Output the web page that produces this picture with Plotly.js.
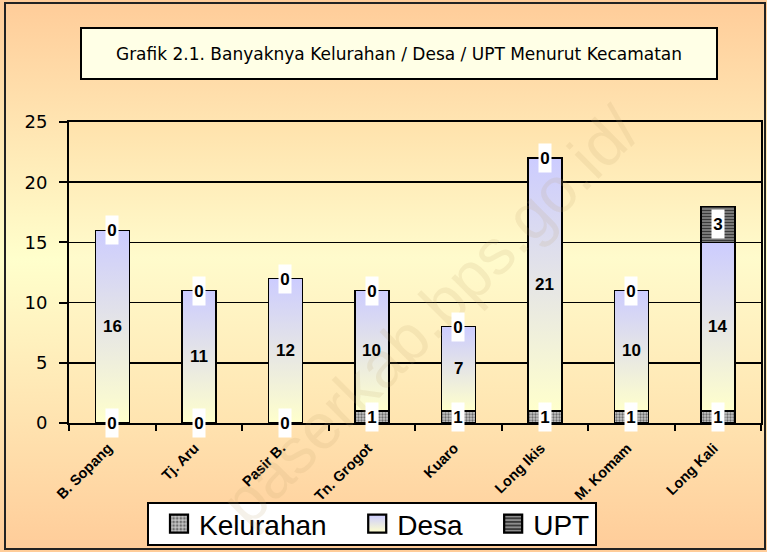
<!DOCTYPE html>
<html>
<head>
<meta charset="utf-8">
<script src="https://cdn.plot.ly/plotly-3.0.1.min.js"></script>
<style>
  html, body { margin:0; padding:0; }
  #wrap { position:relative; width:767px; height:552px;
    background: linear-gradient(to bottom, #FFCC99 0%, #FFFFCC 47%, #FFCC99 100%); overflow:hidden; }
  #plotbg { position:absolute; left:69px; top:122px; width:692px; height:301px;
    background: linear-gradient(to bottom, #FFE2AC 0%, #FFFBCC 45%, #FFE4B0 100%); }
  #frame { position:absolute; left:4px; top:2px; width:758px; height:544px; border:2px solid #222; pointer-events:none; }
  #chart { position:absolute; left:0; top:0; width:767px; height:552px; }
</style>
</head>
<body>
<div id="wrap">
  <div id="plotbg"></div>
  <div id="chart"></div>
  <div id="frame"></div>
</div>
<script>
const categories = ["B. Sopang", "Tj. Aru", "Pasir B.", "Tn. Grogot", "Kuaro", "Long Ikis", "M. Komam", "Long Kali"];
const kelurahan = [0, 0, 0, 1, 1, 1, 1, 1];
const desa      = [16, 11, 12, 10, 7, 21, 10, 14];
const upt       = [0, 0, 0, 0, 0, 0, 0, 3];
const seriesNames = ["Kelurahan", "Desa", "UPT"];
const titleText = "Grafik 2.1. Banyaknya Kelurahan / Desa / UPT Menurut Kecamatan";
const watermark = "paserkab.bps.go.id/";

const pad = "\u00A0\u00A0";
const barLine = { color: "#000", width: 1.5 };
const traces = [
  { type: "bar", name: seriesNames[0] + pad, x: categories, y: kelurahan,
    marker: { color: "#B8B8B8", line: barLine,
      pattern: { shape: ".", fgcolor: "#6E6E6E", bgcolor: "#C4C4C4", size: 3, solidity: 0.45 } } },
  { type: "bar", name: seriesNames[1] + pad, x: categories, y: desa,
    marker: { color: "#E2E0EC", line: barLine } },
  { type: "bar", name: seriesNames[2], x: categories, y: upt,
    marker: { color: "#6A6A6A", line: barLine,
      pattern: { shape: "-", fgcolor: "#3A3A3A", bgcolor: "#8C8C8C", size: 3, solidity: 0.5 } } }
];

const labelFont = { family: "Liberation Sans, Arial, sans-serif", size: 17, color: "#000", weight: "bold" };
const annotations = [];
annotations.push({ xref: "paper", yref: "paper", x: (430 - 69) / 692, y: (423 - 316) / 301,
  xanchor: "center", yanchor: "middle", text: watermark, showarrow: false,
  textangle: -45, font: { family: "Liberation Sans, Arial, sans-serif", size: 64, color: "rgba(190,160,110,0.15)" } });
categories.forEach((c, i) => {
  annotations.push({ x: c, y: kelurahan[i] / 2, text: String(kelurahan[i]), showarrow: false,
    font: labelFont, bgcolor: "#FFFFFF", width: 12, height: 28, borderpad: 0 });
  annotations.push({ x: c, y: kelurahan[i] + desa[i] / 2, text: String(desa[i]), showarrow: false,
    font: labelFont });
  annotations.push({ x: c, y: kelurahan[i] + desa[i] + upt[i] / 2, text: String(upt[i]), showarrow: false,
    font: labelFont, bgcolor: "#FFFFFF", width: 12, height: 28, borderpad: 0 });
});

const layout = {
  width: 767, height: 552,
  margin: { l: 69, r: 6, t: 122, b: 129, pad: 0, autoexpand: false },
  paper_bgcolor: "rgba(0,0,0,0)", plot_bgcolor: "rgba(0,0,0,0)",
  barmode: "stack", bargap: 0.607,
  showlegend: true,
  title: { text: titleText, xref: "paper", x: (399 - 69) / 692, xanchor: "center",
    yref: "container", y: 1 - 54 / 552, yanchor: "middle",
    font: { family: "DejaVu Sans, sans-serif", size: 17, color: "#000" } },
  xaxis: { type: "category", showline: true, linecolor: "#000", linewidth: 2, mirror: true,
    ticks: "outside", tickson: "boundaries", ticklen: 6, tickwidth: 2, tickcolor: "#000",
    tickangle: -45, showgrid: false, ticklabelshift: -4, ticklabelstandoff: 9, automargin: false,
    tickfont: { family: "Liberation Sans, Arial, sans-serif", size: 14.5, color: "#000", weight: "bold" } },
  yaxis: { range: [0, 25], dtick: 5, tick0: 0, showgrid: true, gridcolor: "#000", gridwidth: 1.5,
    showline: true, linecolor: "#000", linewidth: 2, mirror: true, zeroline: false, automargin: false,
    ticks: "outside", ticklen: 8, tickwidth: 2, tickcolor: "#000", ticklabelstandoff: 8,
    tickfont: { family: "DejaVu Sans, sans-serif", size: 18, color: "#000" } },
  legend: { orientation: "h", traceorder: "normal", xref: "paper", yref: "paper",
    x: (147 - 69) / 692, xanchor: "left", y: (423 - 524) / 301, yanchor: "middle",
    indentation: 10,
    bgcolor: "#FFFFFF", bordercolor: "#000", borderwidth: 2,
    font: { family: "Liberation Sans, Arial, sans-serif", size: 28, color: "#000" } },
  shapes: [
    { type: "rect", xref: "paper", yref: "paper", x0: (81 - 69) / 692, x1: (717 - 69) / 692,
      y0: (423 - 79) / 301, y1: (423 - 28) / 301, fillcolor: "#FFFFE6", line: { color: "#000", width: 2 }, layer: "below" }
  ],
  annotations: annotations
};

const gd = document.getElementById("chart");
Plotly.newPlot(gd, traces, layout, { staticPlot: true, displayModeBar: false }).then(() => {
  const svg = gd.querySelector("svg.main-svg");
  const ns = "http://www.w3.org/2000/svg";
  let defs = svg.querySelector("defs");
  if (!defs) { defs = document.createElementNS(ns, "defs"); svg.insertBefore(defs, svg.firstChild); }
  const g = document.createElementNS(ns, "linearGradient");
  g.setAttribute("id", "desaGrad"); g.setAttribute("x1", "0"); g.setAttribute("y1", "0");
  g.setAttribute("x2", "0"); g.setAttribute("y2", "1");
  [["0", "#CCCCFF"], ["1", "#FFFFCC"]].forEach(([o, c]) => {
    const s = document.createElementNS(ns, "stop"); s.setAttribute("offset", o); s.setAttribute("stop-color", c); g.appendChild(s);
  });
  defs.appendChild(g);
  const barTraces = gd.querySelectorAll(".barlayer .trace");
  if (barTraces[1]) barTraces[1].querySelectorAll("path").forEach(p => { p.style.fill = "url(#desaGrad)"; });
  const legTraces = gd.querySelectorAll(".legend .traces");
  legTraces.forEach((t, k) => {
    t.querySelectorAll(".legendpoints path").forEach(p => {
      const tr = p.getAttribute("transform") || "";
      p.setAttribute("transform", tr + " scale(1.5)");
      if (k === 1) p.style.fill = "url(#desaGrad)";
    });
  });
  const bg = gd.querySelector(".legend rect.bg");
  if (bg) {
    const h = parseFloat(bg.getAttribute("height"));
    const y = parseFloat(bg.getAttribute("y") || "0");
    const target = 42;
    if (h > target) { bg.setAttribute("y", y + (h - target) / 2); bg.setAttribute("height", target); }
  }
});
</script>
</body>
</html>
